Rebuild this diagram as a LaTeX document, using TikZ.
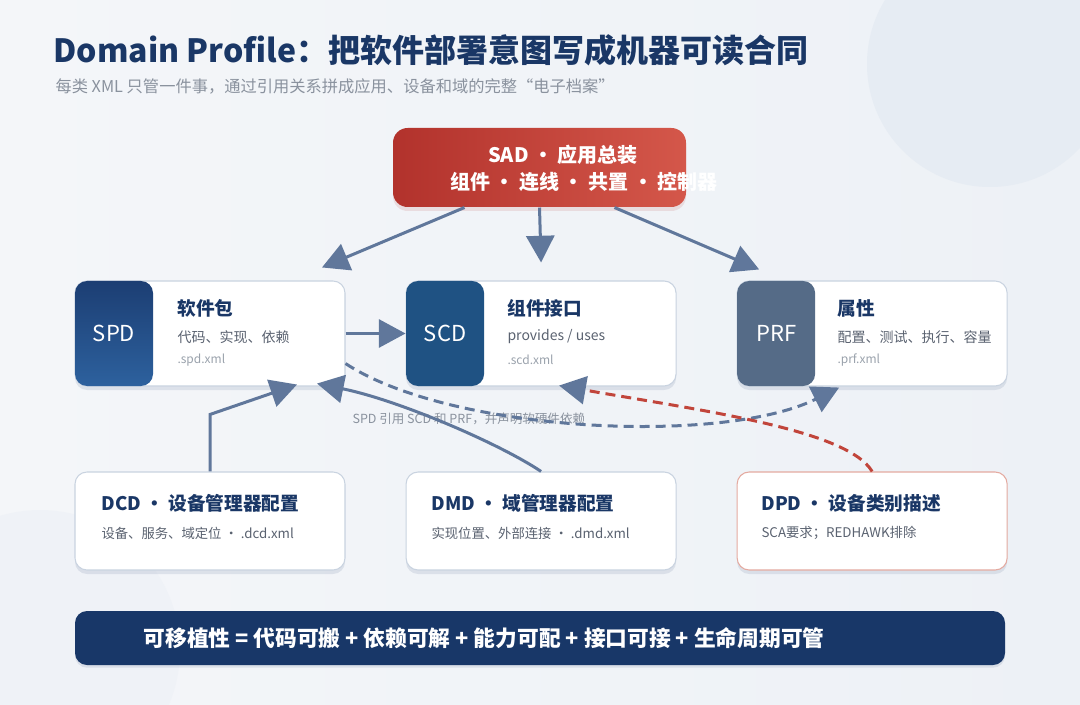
\documentclass[tikz,border=0pt]{standalone}
\usepackage{fontspec}
\setmainfont{Noto Sans CJK SC}
\usetikzlibrary{arrows.meta, positioning, calc, shadows}

\definecolor{titleblue}{HTML}{1A3766}
\definecolor{subgray}{HTML}{8A929E}
\definecolor{textgray}{HTML}{5A6270}
\definecolor{xmlgray}{HTML}{9AA2AC}
\definecolor{linkblue}{HTML}{60779B}
\definecolor{linkred}{HTML}{C1453B}
\definecolor{cardline}{HTML}{C9D3E0}
\definecolor{dpdline}{HTML}{E4AAA0}
\definecolor{spdtop}{HTML}{1C3E73}
\definecolor{spdbot}{HTML}{2D619E}
\definecolor{scdfill}{HTML}{1F5283}
\definecolor{prffill}{HTML}{556B87}
\definecolor{sadleft}{HTML}{B2322C}
\definecolor{sadright}{HTML}{D4574A}
\definecolor{barfill}{HTML}{183768}
\definecolor{bgleft}{HTML}{F4F6F9}
\definecolor{bgright}{HTML}{EDF1F6}
\definecolor{bgcircle}{HTML}{E6ECF3}

\begin{document}
\begin{tikzpicture}[x=0.75pt, y=-0.75pt, >=Stealth, thick]

    % Define the styles
    \tikzstyle{card} = [rectangle, draw=cardline, line width=0.8pt, fill=white, rounded corners=9pt, inner sep=0pt, minimum width=202.5pt, drop shadow={shadow xshift=0pt, shadow yshift=-3pt, opacity=0.10, fill=titleblue}]
    \tikzstyle{topcard} = [card, minimum height=78.75pt]
    \tikzstyle{lowcard} = [card, minimum height=73.5pt]
    \tikzstyle{keybox} = [rectangle, rounded corners=9pt, inner sep=0pt, minimum width=58.5pt, minimum height=78.75pt, text=white, font=\fontsize{16.5}{18}\selectfont, anchor=west]
    \tikzstyle{cardtitle} = [anchor=west, inner sep=0pt, text=titleblue, font=\fontsize{14}{16}\selectfont\bfseries]
    \tikzstyle{cardsub} = [anchor=west, inner sep=0pt, text=textgray, font=\fontsize{10.5}{12}\selectfont]
    \tikzstyle{cardxml} = [anchor=west, inner sep=0pt, text=xmlgray, font=\fontsize{9}{11}\selectfont]
    \tikzstyle{arrow} = [-{Triangle[length=20pt, width=21pt]}, line width=2.25pt, draw=linkblue]
    \tikzstyle{dasharrow} = [arrow, dash pattern=on 7.5pt off 4.5pt]
    \tikzstyle{redarrow} = [-{Triangle[length=20pt, width=21pt, color=linkblue]}, line width=2.25pt, draw=linkred, dash pattern=on 7.5pt off 4.5pt]

    % Background
    \useasboundingbox (0,0) rectangle (1080,705);
    \shade [left color=bgleft, right color=bgright] (0,0) rectangle (1080,705);
    \fill [bgcircle] (990,64) circle [radius=92.25pt];
    \fill [bgcircle, opacity=0.3] (40,650) circle [radius=105pt];

    % Title
    \node (title) [anchor=west, inner sep=0pt, text=titleblue, font=\fontsize{24}{28}\selectfont\bfseries] at (53,50) {Domain Profile：把软件部署意图写成机器可读合同};
    \node (subtitle) [anchor=west, inner sep=0pt, text=subgray, font=\fontsize{12.2}{14}\selectfont] at (55,86) {每类 XML 只管一件事，通过引用关系拼成应用、设备和域的完整“电子档案”};

    % Nodes
    \node (sad) [rectangle, rounded corners=11pt, minimum width=219.75pt, minimum height=59.25pt, left color=sadleft, right color=sadright, drop shadow={shadow xshift=0pt, shadow yshift=-3pt, opacity=0.12, fill=sadleft}] at (539.5,167.5) {};
    \node (sadtop) [text=white, inner sep=0pt, font=\fontsize{15}{17}\selectfont\bfseries] at (563,155) {SAD · 应用总装};
    \node (sadbot) [text=white, inner sep=0pt, font=\fontsize{15}{17}\selectfont\bfseries] at (584,182) {组件 · 连线 · 共置 · 控制器};

    \node (spd) [topcard] at (210,333.5) {};
    \node (scd) [topcard, right=45pt of spd] {};
    \node (prf) [topcard, right=45pt of scd] {};

    \node (spdkey) [keybox, top color=spdtop, bottom color=spdbot] at (spd.west) {SPD};
    \node (scdkey) [keybox, fill=scdfill] at (scd.west) {SCD};
    \node (prfkey) [keybox, fill=prffill] at (prf.west) {PRF};

    \node (spdtitle) [cardtitle] at (177,308) {软件包};
    \node (spdsub) [cardsub] at (177,337) {代码、实现、依赖};
    \node (spdxml) [cardxml] at (177,360) {.spd.xml};
    \node (scdtitle) [cardtitle] at (507,308) {组件接口};
    \node (scdsub) [cardsub] at (507,337) {provides / uses};
    \node (scdxml) [cardxml] at (507,360) {.scd.xml};
    \node (prftitle) [cardtitle] at (837,308) {属性};
    \node (prfsub) [cardsub] at (837,337) {配置、测试、执行、容量};
    \node (prfxml) [cardxml] at (837,360) {.prf.xml};

    \node (dcd) [lowcard] at (210,521) {};
    \node (dmd) [lowcard, right=45pt of dcd] {};
    \node (dpd) [lowcard, right=45pt of dmd, draw=dpdline] {};

    \node (dcdtitle) [cardtitle] at (101,503) {DCD · 设备管理器配置};
    \node (dcdsub) [cardsub, font=\fontsize{10}{12}\selectfont] at (101,533) {设备、服务、域定位 · .dcd.xml};
    \node (dmdtitle) [cardtitle] at (431,503) {DMD · 域管理器配置};
    \node (dmdsub) [cardsub, font=\fontsize{10}{12}\selectfont] at (431,533) {实现位置、外部连接 · .dmd.xml};
    \node (dpdtitle) [cardtitle] at (761,503) {DPD · 设备类别描述};
    \node (dpdsub) [cardsub, font=\fontsize{10}{12}\selectfont] at (761,533) {SCA要求；REDHAWK排除};

    \node (bar) [rectangle, rounded corners=9pt, fill=barfill, minimum width=697.5pt, minimum height=40.5pt, drop shadow={shadow xshift=0pt, shadow yshift=-2pt, opacity=0.10, fill=titleblue}] at (540,638) {};
    \node (bartext) [anchor=west, inner sep=0pt, text=white, font=\fontsize{16.3}{18}\selectfont\bfseries] at (143,638) {可移植性 = 代码可搬 + 依赖可解 + 能力可配 + 接口可接 + 生命周期可管};

    \node (reflabel) [anchor=west, inner sep=0pt, text=subgray, font=\fontsize{9.4}{11}\selectfont] at (352,419) {SPD 引用 SCD 和 PRF，并声明软硬件依赖};

    % Arrows
    \draw [arrow] ($(sad.south)+(-75,0)$) -- ($(spd.north)+(112,-13)$);
    \draw [arrow] (sad.south) -- ($(scd.north)+(0,-18)$);
    \draw [arrow] ($(sad.south)+(75,0)$) -- ($(prf.north)+(-113,-11)$);
    \draw [arrow] (spd.east) -- (scd.west);

    \draw [arrow] (dcd.north) -- ++(0,-57) -- ($(spd.south)+(87,-2)$);
    \draw [arrow] (dmd.north) .. controls +(-40,-27) and +(83,17) .. ($(spd.south)+(107,-3)$);

    % Dashed references
    \draw [dasharrow] ($(spd.south east)+(0,-23)$) .. controls +(105,69) and +(-117,58) .. ($(prf.south)+(-33,1)$);
    \draw [redarrow] (dpd.north) .. controls +(-25,-42) and +(142,25) .. ($(scd.south)+(18,-1)$);

\end{tikzpicture}
\end{document}
